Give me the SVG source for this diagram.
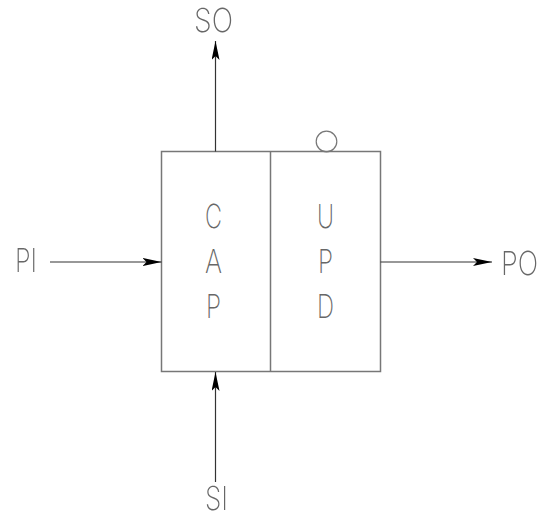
<svg xmlns="http://www.w3.org/2000/svg" width="542" height="523" viewBox="0 0 542 523">
<style>
  .lbl { font-family: "Inter", "Liberation Sans", sans-serif; font-weight: 200; font-size: 33px; fill: #666; }
  .box { fill: #fff; stroke: #777; stroke-width: 1.5; }
  .wire { stroke: #333; stroke-width: 1.2; fill: none; }
  .gray { opacity: 0.99; }
</style>
<defs>
  <marker id="arr" viewBox="0 0 19 8" refX="19" refY="4" markerWidth="19" markerHeight="8" markerUnits="userSpaceOnUse" orient="auto">
    <path d="M0,0 L19,4 L0,8 L4,4 Z" fill="#000"/>
  </marker>
</defs>
<rect width="542" height="523" fill="#fff"/>
<g id="block">
  <rect class="box" x="161.5" y="151.5" width="219" height="220"/>
  <line class="box" x1="270.5" y1="151.5" x2="270.5" y2="371.5"/>
  <circle cx="326.5" cy="141.5" r="10.3" fill="none" stroke="#777" stroke-width="1.2"/>
  <g class="gray">
    <text class="lbl" x="205" y="228" textLength="17" lengthAdjust="spacingAndGlyphs">C</text>
    <text class="lbl" x="205" y="273" textLength="17" lengthAdjust="spacingAndGlyphs">A</text>
    <text class="lbl" x="206" y="318" textLength="15" lengthAdjust="spacingAndGlyphs">P</text>
    <text class="lbl" x="317" y="228" textLength="17" lengthAdjust="spacingAndGlyphs">U</text>
    <text class="lbl" x="318" y="273" textLength="15" lengthAdjust="spacingAndGlyphs">P</text>
    <text class="lbl" x="317" y="318" textLength="17" lengthAdjust="spacingAndGlyphs">D</text>
  </g>
</g>
<g id="connectors">
  <line class="wire" x1="215.5" y1="151.5" x2="215.5" y2="41" marker-end="url(#arr)"/>
  <line class="wire" x1="50" y1="262" x2="161.5" y2="262" marker-end="url(#arr)"/>
  <line class="wire" x1="380.5" y1="262" x2="492" y2="262" marker-end="url(#arr)"/>
  <line class="wire" x1="215.5" y1="482" x2="215.5" y2="372" marker-end="url(#arr)"/>
</g>
<g id="labels" class="gray">
  <text class="lbl" x="194" y="32" textLength="39" lengthAdjust="spacingAndGlyphs">SO</text>
  <text class="lbl" x="15" y="272" textLength="22" lengthAdjust="spacingAndGlyphs">PI</text>
  <text class="lbl" transform="translate(501,275) scale(0.82,1)" x="0" y="0">PO</text>
  <text class="lbl" x="205" y="510" textLength="23" lengthAdjust="spacingAndGlyphs">SI</text>
</g>
</svg>
